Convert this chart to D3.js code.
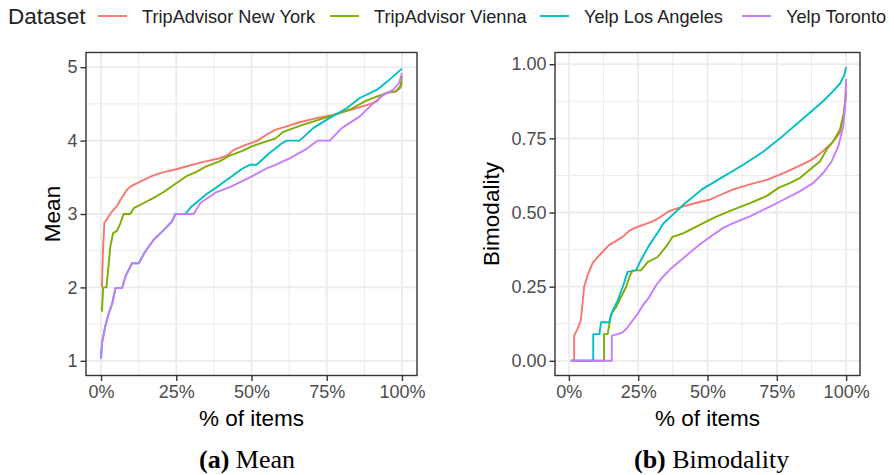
<!DOCTYPE html>
<html>
<head>
<meta charset="utf-8">
<script src="https://cdn.jsdelivr.net/npm/d3@7"></script>
<style>
  html, body { margin: 0; padding: 0; background: #fff; }
  svg { display: block; }
  text { font-family: "Liberation Sans", Arial, sans-serif; }
</style>
</head>
<body>
<svg id="chart" width="894" height="475"></svg>
<script>
// ---------------- DATA ----------------
const seriesNames = ["TripAdvisor New York", "TripAdvisor Vienna", "Yelp Los Angeles", "Yelp Toronto"];
const seriesColors = ["#F8766D", "#7CAE00", "#00BFC4", "#C77CFF"];
const legendTitle = "Dataset";

const xTicks = [0, 25, 50, 75, 100];
const xMinor = [12.5, 37.5, 62.5, 87.5];
const meanTicks = [1, 2, 3, 4, 5];
const meanMinor = [1.5, 2.5, 3.5, 4.5];
const bimTicks = [0, 0.25, 0.5, 0.75, 1.0];
const bimMinor = [0.125, 0.375, 0.625, 0.875];

// Mean panel: [% of items, mean]
const meanNewYork = [[0.3,2.0],[0.6,2.45],[1.1,2.88],[2.0,2.93],[3.0,3.0],[4.2,3.06],[5.5,3.12],[6.4,3.19],[7.5,3.26],[8.6,3.33],[10,3.38],[12,3.42],[15,3.48],[17,3.52],[20,3.56],[25,3.61],[28.6,3.65],[34,3.71],[39.5,3.76],[42,3.8],[44,3.87],[47.4,3.93],[50,3.97],[52,4.0],[55,4.08],[58,4.15],[60.6,4.18],[66,4.25],[72,4.31],[77,4.35],[83,4.42],[88,4.48],[91.6,4.53],[93,4.6],[95,4.65],[98,4.67],[99.5,4.72],[100,4.8]];
const meanVienna = [[0.3,1.67],[0.7,2.0],[1.8,2.0],[3.1,2.56],[4.0,2.74],[5.3,2.77],[6.4,2.87],[7.5,3.0],[9.7,3.0],[10.9,3.08],[14.2,3.15],[17.5,3.22],[20.8,3.30],[25,3.42],[28.6,3.52],[32,3.58],[35,3.65],[39.5,3.72],[43,3.8],[47,3.86],[50,3.92],[55,3.99],[58,4.03],[60.6,4.12],[66,4.2],[72,4.28],[77,4.34],[83,4.43],[88,4.54],[91.6,4.6],[95,4.65],[98,4.67],[99.6,4.75],[100,4.88]];
const meanLosAngeles = [[0,1.03],[0.3,1.24],[1.4,1.47],[2.6,1.65],[3.7,1.78],[4.8,1.99],[7.0,1.99],[8.1,2.15],[10.3,2.33],[12.5,2.33],[14.7,2.49],[17.5,2.65],[20.8,2.78],[23.6,2.9],[24.7,3.0],[28,3.0],[30,3.1],[35,3.27],[39,3.38],[43,3.5],[47,3.62],[49.5,3.67],[51.7,3.67],[56,3.83],[60,3.96],[61.7,4.0],[66,4.0],[70.5,4.17],[76,4.31],[81.6,4.44],[86,4.58],[91.6,4.69],[95,4.8],[100,4.98]];
const meanToronto = [[0,1.03],[0.3,1.24],[1.4,1.47],[2.6,1.65],[3.7,1.78],[4.8,1.99],[7.0,1.99],[8.1,2.15],[10.3,2.33],[12.5,2.33],[14.7,2.49],[17.5,2.65],[20.8,2.78],[23.6,2.9],[24.7,3.0],[30.8,3.0],[33,3.15],[38,3.29],[43,3.37],[49.5,3.5],[55,3.62],[58,3.67],[62.8,3.76],[68,3.88],[72,4.0],[76,4.0],[80,4.17],[86,4.33],[90,4.49],[93.7,4.62],[97,4.69],[99,4.78],[100,4.92]];

// Bimodality panel: [% of items, bimodality]
const bimNewYork = [[0.7,0],[1.9,0],[1.9,0.085],[3.1,0.107],[4.3,0.136],[4.9,0.19],[5.5,0.25],[6.8,0.29],[8.6,0.33],[11,0.356],[14.5,0.39],[19.4,0.418],[22,0.44],[24.2,0.45],[26.8,0.458],[30.2,0.47],[33,0.485],[36.2,0.505],[41,0.52],[45.8,0.532],[50.7,0.543],[53.3,0.554],[59.3,0.578],[65.3,0.595],[71.4,0.61],[77.4,0.633],[81,0.648],[84.6,0.664],[87,0.675],[89.4,0.69],[92,0.71],[95.4,0.74],[97.8,0.77],[99.2,0.83],[99.7,0.88],[100,0.93]];
const bimVienna = [[0.7,0],[12.7,0],[12.7,0.09],[14,0.09],[15.2,0.158],[17,0.18],[18.8,0.215],[20.6,0.248],[21.8,0.282],[23,0.305],[26,0.305],[28.4,0.333],[32,0.35],[35,0.384],[37.4,0.418],[41,0.429],[44.6,0.446],[49.5,0.469],[53,0.485],[56,0.497],[59.3,0.51],[65.3,0.532],[71.4,0.556],[75.6,0.583],[79.8,0.60],[83.4,0.617],[87,0.645],[90.6,0.673],[93,0.713],[95.4,0.741],[97.8,0.78],[99.2,0.837],[100,0.905]];
const bimLosAngeles = [[0.7,0],[8.8,0],[8.8,0.09],[11,0.09],[11.6,0.13],[14.5,0.13],[15.8,0.17],[17.6,0.203],[19.4,0.248],[21.2,0.30],[24.2,0.305],[26,0.34],[29,0.39],[32.6,0.44],[34,0.462],[37.4,0.492],[41.5,0.528],[48,0.578],[55.7,0.621],[62.9,0.661],[70.1,0.705],[77.4,0.76],[84.6,0.818],[91.8,0.876],[95.4,0.91],[97.8,0.935],[99.2,0.96],[100,0.99]];
const bimToronto = [[0.7,0],[15.5,0],[15.5,0.085],[17.6,0.09],[19.4,0.096],[21.2,0.113],[23,0.136],[24.8,0.158],[26.6,0.186],[29,0.215],[31.4,0.254],[33.8,0.282],[36.8,0.311],[40.4,0.339],[44.6,0.373],[48.3,0.40],[51.9,0.424],[56,0.45],[59.3,0.464],[65.3,0.487],[71.4,0.515],[77.4,0.543],[83.4,0.572],[88.2,0.60],[91.8,0.634],[94.8,0.673],[97.2,0.724],[99,0.792],[99.7,0.87],[100,0.95]];

const meanSeries = [meanNewYork, meanVienna, meanLosAngeles, meanToronto];
const bimSeries = [bimNewYork, bimVienna, bimLosAngeles, bimToronto];

// ---------------- DRAW ----------------
const svg = d3.select("#chart");
svg.append("rect").attr("width", 894).attr("height", 475).attr("fill", "#fff");

function panel(opts) {
  const x = d3.scaleLinear().domain([-5, 105]).range([opts.left, opts.right]);
  const y = d3.scaleLinear().domain(opts.yDomain).range([opts.bottom, opts.top]);
  const g = svg.append("g");

  // grid
  const grid = g.append("g");
  opts.yMinor.forEach(v => grid.append("line").attr("x1", opts.left).attr("x2", opts.right)
    .attr("y1", y(v)).attr("y2", y(v)).attr("stroke", "#EBEBEB").attr("stroke-width", 1));
  xMinor.forEach(v => grid.append("line").attr("y1", opts.top).attr("y2", opts.bottom)
    .attr("x1", x(v)).attr("x2", x(v)).attr("stroke", "#EBEBEB").attr("stroke-width", 1));
  opts.yTicks.forEach(v => grid.append("line").attr("x1", opts.left).attr("x2", opts.right)
    .attr("y1", y(v)).attr("y2", y(v)).attr("stroke", "#EBEBEB").attr("stroke-width", 1.8));
  xTicks.forEach(v => grid.append("line").attr("y1", opts.top).attr("y2", opts.bottom)
    .attr("x1", x(v)).attr("x2", x(v)).attr("stroke", "#EBEBEB").attr("stroke-width", 1.8));

  // lines
  const line = d3.line().x(d => x(d[0])).y(d => y(d[1]));
  opts.series.forEach((s, i) => {
    g.append("path").datum(s).attr("d", line).attr("fill", "none")
      .attr("stroke", seriesColors[i]).attr("stroke-width", 1.9)
      .attr("stroke-linejoin", "round");
  });

  // border
  g.append("rect").attr("x", opts.left).attr("y", opts.top)
    .attr("width", opts.right - opts.left).attr("height", opts.bottom - opts.top)
    .attr("fill", "none").attr("stroke", "#333333").attr("stroke-width", 1.4);

  // axes
  const ax = g.append("g").attr("transform", `translate(0,${opts.bottom})`)
    .call(d3.axisBottom(x).tickValues(xTicks).tickSize(5.5).tickPadding(4).tickFormat(d => d + "%"));
  const ay = g.append("g").attr("transform", `translate(${opts.left},0)`)
    .call(d3.axisLeft(y).tickValues(opts.yTicks).tickSize(5.5).tickPadding(3).tickFormat(opts.yFormat));
  [ax, ay].forEach(a => {
    a.select(".domain").remove();
    a.selectAll(".tick line").attr("stroke", "#333333").attr("stroke-width", 1.4);
    a.selectAll(".tick text").attr("fill", "#4D4D4D").style("font-size", "18px")
      .style("font-family", '"Liberation Sans", Arial, sans-serif');
  });

  // axis titles
  g.append("text").attr("x", (x(0) + x(100)) / 2).attr("y", 426).attr("text-anchor", "middle")
    .style("font-size", "22.5px").attr("fill", "#000").text("% of items");
  g.append("text").attr("transform", `translate(${opts.yTitleX},${(opts.top + opts.bottom) / 2}) rotate(-90)`)
    .attr("text-anchor", "middle").style("font-size", "22.5px").attr("fill", "#000").text(opts.yTitle);

  // caption
  const cap = g.append("text").attr("x", opts.capX).attr("y", 468)
    .style("font-family", '"Liberation Serif", "Times New Roman", serif').style("font-size", "26px").attr("fill", "#000");
  cap.append("tspan").style("font-weight", "bold").text(opts.capLabel);
  cap.append("tspan").text(" " + opts.capText);
}

panel({
  left: 86, right: 417, top: 52.5, bottom: 375.5,
  yDomain: [0.8, 5.2], yTicks: meanTicks, yMinor: meanMinor,
  yFormat: d3.format("d"), series: meanSeries,
  yTitle: "Mean", yTitleX: 60, capX: 199, capLabel: "(a)", capText: "Mean"
});

panel({
  left: 555, right: 860, top: 52.5, bottom: 375.5,
  yDomain: [-0.0495, 1.0395], yTicks: bimTicks, yMinor: bimMinor,
  yFormat: d3.format(".2f"), series: bimSeries,
  yTitle: "Bimodality", yTitleX: 499, capX: 634, capLabel: "(b)", capText: "Bimodality"
});

// legend (layout positions)
const legKeyX = [98, 330, 540, 742];
const leg = svg.append("g");
leg.append("text").attr("x", 8).attr("y", 24).style("font-size", "22.5px").attr("fill", "#222").text(legendTitle);
seriesNames.forEach((name, i) => {
  const kx = legKeyX[i];
  leg.append("line").attr("x1", kx).attr("x2", kx + 29).attr("y1", 16).attr("y2", 16)
    .attr("stroke", seriesColors[i]).attr("stroke-width", 1.9);
  leg.append("text").attr("x", kx + 44).attr("y", 22.7).style("font-size", "18.2px").attr("fill", "#222").text(name);
});
</script>
</body>
</html>
